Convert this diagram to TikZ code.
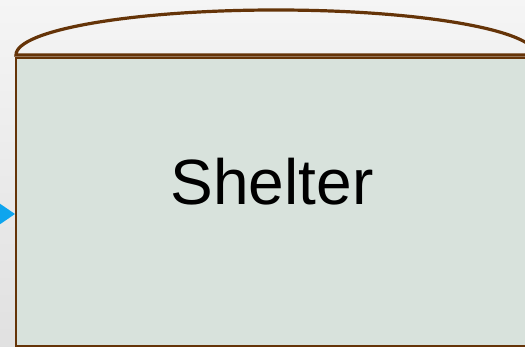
\documentclass[tikz,border=0pt]{standalone}
\usepackage{fontspec}
\setmainfont{Liberation Sans}
\usepackage{xcolor}
\usetikzlibrary{arrows.meta,positioning}
\definecolor{shelterfill}{HTML}{D8E2DC}
\definecolor{roofbrown}{HTML}{653408}
\definecolor{flowblue}{HTML}{0EA5EE}

\begin{document}
\begin{tikzpicture}[
    x=1pt, y=1pt,
    shelterbox/.style={rectangle, draw=roofbrown, fill=shelterfill, line width=1.8pt, inner sep=0pt, anchor=north west},
    roof/.style={draw=roofbrown, line width=3.2pt},
    title/.style={font=\fontsize{64}{64}\selectfont, text=black, inner sep=0pt, anchor=base},
    inflow/.style={-{Triangle[length=15pt, width=20pt]}, draw=flowblue, fill=flowblue, line width=2pt}
]

% Canvas
\useasboundingbox (0,0) rectangle (525,347);
\clip (0,0) rectangle (525,347);
\shade[top color=black!4, bottom color=black!12] (0,0) rectangle (525,347);

% Shelter body
\node[shelterbox, minimum width=525pt, minimum height=288pt] (shelter) at (15,289.5) {};

% Roof dome
\coordinate (roofleft) at (16,292);
\draw[roof] (roofleft) arc (180:0:260 and 45) -- (roofleft) -- cycle;

% Label
\node[title] (label) at (272,142) {Shelter};

% Incoming connector
\coordinate (feed) at (-40,133);
\draw[inflow] (feed) -- (shelter.west |- feed);

\end{tikzpicture}
\end{document}
